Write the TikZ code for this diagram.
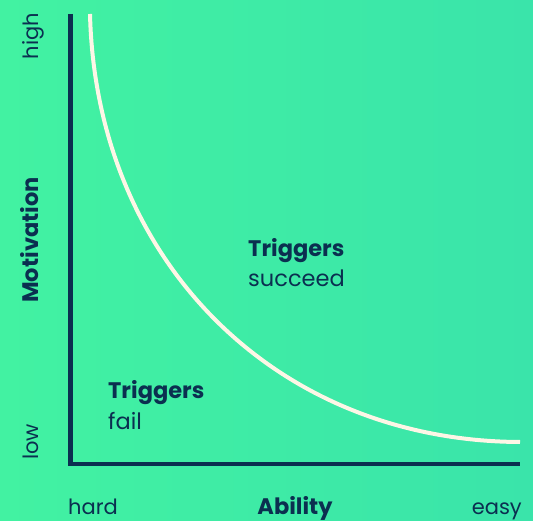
\documentclass[tikz,border=0pt]{standalone}
\usepackage{fontspec}
\setmainfont{Poppins}
\definecolor{bgA}{HTML}{42F2A2}
\definecolor{bgB}{HTML}{3AE4AA}
\definecolor{navy}{HTML}{0B2F50}
\definecolor{cream}{HTML}{FDF6E6}
\begin{document}
\begin{tikzpicture}[x=1pt,y=-1pt,
  lbl/.style={inner sep=0pt, text=navy, font=\fontsize{21}{25}\selectfont},
  inner/.style={inner sep=0pt, text=navy, font=\fontsize{22.5}{27}\selectfont},
  bold/.style={inner sep=0pt, text=navy, font=\fontsize{22.5}{27}\selectfont\bfseries},
  axis/.style={draw=navy, line width=4.5pt, line join=miter},
  curve/.style={draw=cream, line width=4pt}]
\shade[left color=bgA, right color=bgB] (0,0) rectangle (533,521);
\useasboundingbox (0,0) rectangle (533,521);
% axes
\coordinate (top) at (70.5,14);
\coordinate (origin) at (70.5,464);
\coordinate (right) at (520,464);
\draw[axis] (top) -- (origin) -- (right);
% curve
\coordinate (cstart) at (90,14);
\coordinate (cend) at (520,442);
\draw[curve] (cstart) .. controls (96,260) and (275,441) .. (cend);
% labels
\node[lbl, rotate=90, anchor=base east] (high) at (38,13) {high};
\node[lbl, rotate=90, anchor=base west] (low) at (38,460) {low};
\node[bold, rotate=90, anchor=base] (mot) at (38,240) {Motivation};
\node[lbl, anchor=base west] (hard) at (68,514) {hard};
\node[bold, anchor=base] (abil) at (295,514) {Ability};
\node[lbl, anchor=base east] (easy) at (522,514) {easy};
\node[bold, anchor=base west] (t1) at (248,257) {Triggers};
\node[inner, anchor=base west] (s1) at (248,287) {succeed};
\node[bold, anchor=base west] (t2) at (108,399) {Triggers};
\node[inner, anchor=base west] (f2) at (108,429) {fail};
\end{tikzpicture}
\end{document}
